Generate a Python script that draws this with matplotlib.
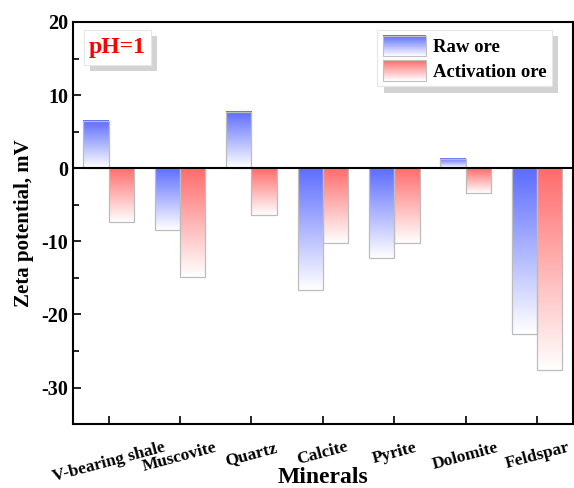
import numpy as np
import matplotlib
matplotlib.use('Agg')
import matplotlib.pyplot as plt
from matplotlib.colors import LinearSegmentedColormap, to_rgb
from matplotlib.patches import Rectangle, Patch
from matplotlib.legend_handler import HandlerBase

minerals = ['V-bearing shale', 'Muscovite', 'Quartz', 'Calcite',
            'Pyrite', 'Dolomite', 'Feldspar']
raw_ore = [6.5, -8.5, 7.7, -16.7, -12.3, 1.3, -22.7]
activation_ore = [-7.4, -14.9, -6.4, -10.3, -10.3, -3.4, -27.6]
series_names = ['Raw ore', 'Activation ore']

BLUE = '#5c6cff'
RED = '#ff6b6b'

plt.rcParams['font.family'] = ['Liberation Serif', 'DejaVu Serif']
plt.rcParams['font.weight'] = 'bold'
plt.rcParams['axes.unicode_minus'] = False


class GradientHandler(HandlerBase):
    def __init__(self, color):
        super().__init__()
        self.color = np.array(to_rgb(color))

    def create_artists(self, legend, orig_handle, xdescent, ydescent,
                       width, height, fontsize, trans):
        n = 30
        arts = []
        for i in range(n):
            t = (i + 0.5) / n
            c = (1 - t) * np.ones(3) + t * self.color
            r = Rectangle((-xdescent, -ydescent + i * height / n), width,
                          height / n + 0.2, facecolor=c, edgecolor='none',
                          transform=trans)
            arts.append(r)
        arts.append(Rectangle((-xdescent, -ydescent), width, height,
                              facecolor='none', edgecolor='#c0c0c0', lw=0.8,
                              transform=trans))
        return arts


def gradient_bars(ax, bars, color):
    cmap = LinearSegmentedColormap.from_list('g', ['white', color])
    grad = np.linspace(0, 1, 256).reshape(-1, 1)
    for rect in bars:
        x, w = rect.get_x(), rect.get_width()
        y0 = min(rect.get_y(), rect.get_y() + rect.get_height())
        y1 = max(rect.get_y(), rect.get_y() + rect.get_height())
        ax.imshow(grad, extent=(x, x + w, y0, y1), origin='lower',
                  aspect='auto', cmap=cmap, zorder=2, interpolation='bilinear')


fig = plt.figure(figsize=(5.74, 4.88), dpi=100)
ax = fig.add_axes([0.127, 0.131, 0.871, 0.824])

x = np.arange(len(minerals))
width = 0.355
b1 = ax.bar(x - width / 2, raw_ore, width, facecolor='none',
            edgecolor='#bdbdbd', lw=0.9, zorder=3)
b2 = ax.bar(x + width / 2, activation_ore, width, facecolor='none',
            edgecolor='#bdbdbd', lw=0.9, zorder=3)
gradient_bars(ax, b1, BLUE)
gradient_bars(ax, b2, RED)

ax.axhline(0, color='black', lw=1.5, zorder=4)

ax.set_xlim(-0.5, 6.5)
ax.set_ylim(-35, 20)
ax.set_yticks([-30, -20, -10, 0, 10, 20])
ax.set_yticks(np.arange(-35, 20, 5), minor=True)
ax.set_xticks(x)
ax.set_xticklabels(minerals, rotation=15, fontsize=12.5, fontweight='bold')
ax.tick_params(axis='y', labelsize=14.5, direction='in', length=6, width=1.2)
ax.tick_params(axis='y', which='minor', direction='in', length=4, width=1.2)
ax.tick_params(axis='x', direction='in', length=6, width=1.2, pad=11)
for s in ax.spines.values():
    s.set_linewidth(1.5)

ax.set_xlabel('Minerals', fontsize=17, fontweight='bold', va='baseline')
ax.xaxis.set_label_coords(0.5, -0.146)
ax.set_ylabel('Zeta potential, mV', fontsize=15, fontweight='bold',
              va='center')
ax.yaxis.set_label_coords(-0.098, 0.5)

# pH label box with shadow
ax.add_patch(Rectangle((0.034, 0.878), 0.134, 0.087, transform=ax.transAxes,
                       facecolor='#d3d3d3', edgecolor='none', zorder=5,
                       clip_on=False))
ax.add_patch(Rectangle((0.022, 0.893), 0.134, 0.087, transform=ax.transAxes,
                       facecolor='white', edgecolor='#e6e6e6', lw=0.8,
                       zorder=6, clip_on=False))
ax.text(0.089, 0.937, 'pH=1', transform=ax.transAxes, fontsize=17,
        fontweight='bold', color='red', ha='center', va='center', zorder=7)

h1 = Patch(label=series_names[0])
h2 = Patch(label=series_names[1])
leg = ax.legend(handles=[h1, h2], loc='upper right',
                bbox_to_anchor=(0.958, 0.980), borderaxespad=0,
                fontsize=13.5,
                handler_map={h1: GradientHandler(BLUE),
                             h2: GradientHandler(RED)},
                handlelength=2.3, handleheight=1.3, handletextpad=0.35,
                labelspacing=0.22, borderpad=0.3,
                fancybox=False, framealpha=1, edgecolor='#e6e6e6',
                shadow={'ox': 4.5, 'oy': -4.5, 'facecolor': '#d3d3d3',
                        'edgecolor': 'none', 'alpha': 1})
leg.get_frame().set_linewidth(0.8)
leg.set_zorder(6)

fig.savefig('out.png', dpi=100)
